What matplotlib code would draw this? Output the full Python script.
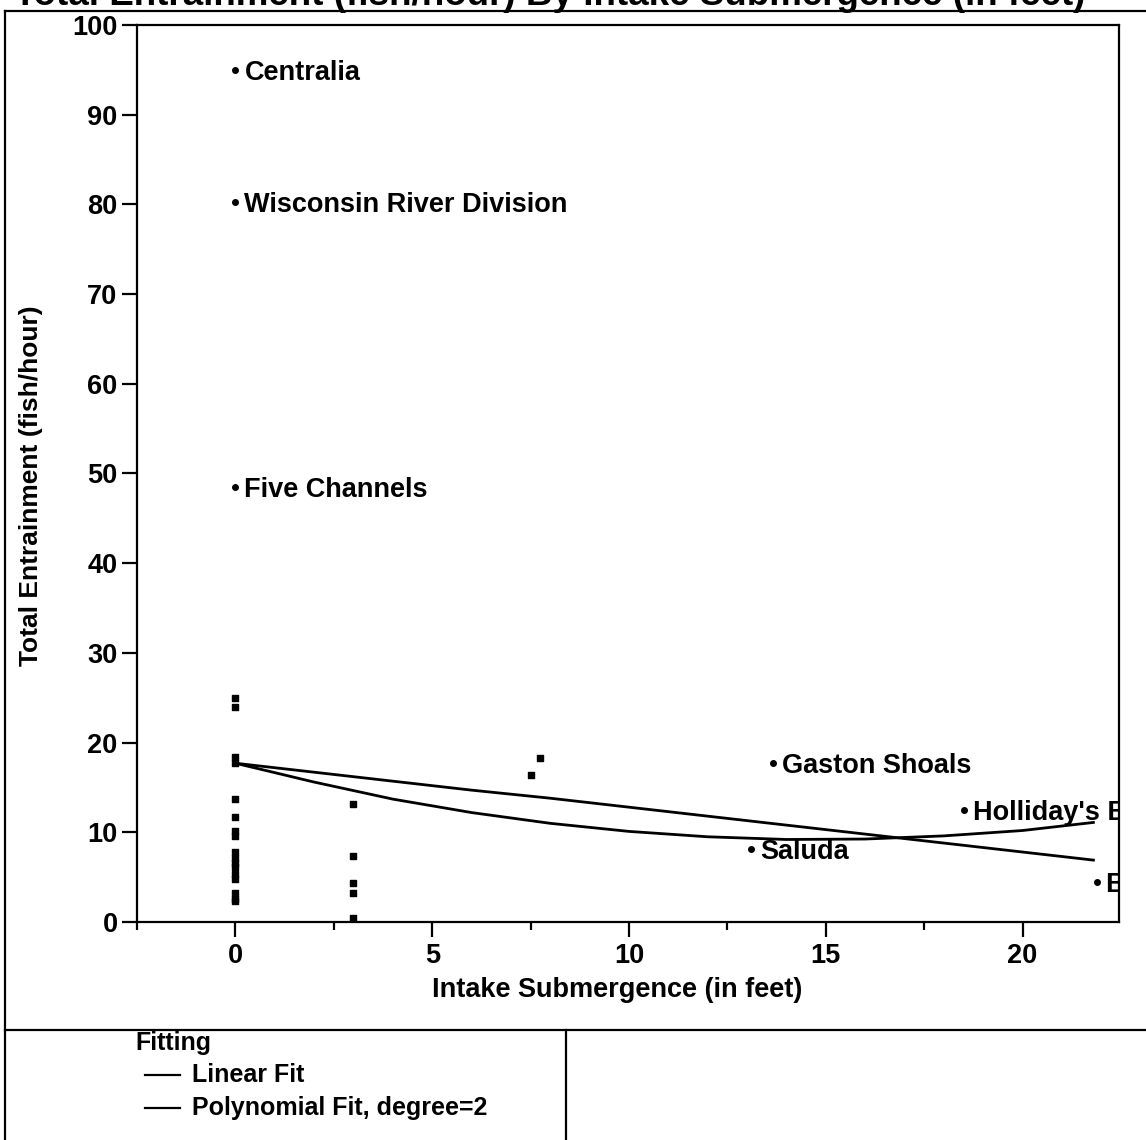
import numpy as np
import matplotlib
matplotlib.use("Agg")
import matplotlib.pyplot as plt
from matplotlib.lines import Line2D

plt.rcParams["font.family"] = ["Liberation Sans", "DejaVu Sans"]
plt.rcParams["font.weight"] = "bold"
plt.rcParams["axes.labelweight"] = "bold"

# Unlabelled plants: intake submergence (ft) and total entrainment (fish/hour)
plain_x = [0, 0, 0, 0, 0, 0, 0, 0, 0, 0, 0, 0, 0, 0, 0, 0, 0,
           3, 3, 3, 3, 3, 7.5, 7.75]
plain_y = [25.0, 24.0, 18.4, 17.7, 13.7, 11.7, 10.1, 9.6, 7.8, 7.1, 6.6, 6.1, 5.4, 4.8, 3.2, 2.6, 2.3,
           13.2, 7.4, 4.3, 3.2, 0.5, 16.4, 18.3]

# Labelled plants
names = ["Centralia", "Wisconsin River Division", "Five Channels", "Gaston Shoals",
         "Holliday's Bridge", "Saluda", "Buzzard's Roost"]
named_x = [0, 0, 0, 13.67, 18.5, 13.1, 21.9]
named_y = [95.0, 80.3, 48.5, 17.7, 12.5, 8.1, 4.5]

# Fitted curves
fit_x = [0, 2, 4, 6, 8, 10, 12, 14, 16, 18, 20, 21.8]
linear_y = [17.7, 16.7, 15.7, 14.7, 13.8, 12.8, 11.8, 10.8, 9.8, 8.8, 7.8, 6.9]
poly_y = [17.7, 15.6, 13.7, 12.2, 11.0, 10.1, 9.5, 9.2, 9.25, 9.6, 10.2, 11.1]

x_ticks = [0, 5, 10, 15, 20]
y_ticks = [0, 10, 20, 30, 40, 50, 60, 70, 80, 90, 100]

W, H = 1146, 1140
fig = plt.figure(figsize=(W / 100, H / 100), dpi=100)

ax = fig.add_axes([137 / W, 1 - 922 / H, (1119 - 137) / W, (922 - 25) / H])
ax.set_xlim(-2.5, 22.45)
ax.set_ylim(0, 100)

ax.plot(fit_x, linear_y, color="black", lw=2.0)
ax.plot(fit_x, poly_y, color="black", lw=2.0)

ax.scatter(plain_x, plain_y, marker="s", s=22, color="black", zorder=3)
ax.scatter(named_x, named_y, marker="o", s=16, color="black", zorder=3)
for n, x, y in zip(names, named_x, named_y):
    t = ax.annotate(n, (x, y), xytext=(6.5, 0), textcoords="offset points",
                    va="center_baseline", ha="left", fontsize=19.5,
                    annotation_clip=False)
    t.set_clip_path(ax.patch)

for s in ax.spines.values():
    s.set_linewidth(1.6)

ax.set_xticks(x_ticks)
ax.set_xticks([-2.5, 2.5, 7.5, 12.5, 17.5], minor=True)
ax.set_yticks(y_ticks)
ax.tick_params(axis="both", which="major", direction="out", length=11, width=1.6,
               labelsize=19.5, pad=3)
ax.tick_params(axis="x", which="minor", direction="out", length=6, width=1.6)
ax.tick_params(axis="x", which="major", pad=4)

ax.set_xlabel("Intake Submergence (in feet)", fontsize=19.5)
ax.xaxis.set_label_coords((617 - 137) / 982, -(990 - 922) / 897)
ax.xaxis.label.set_va("center")
ax.set_ylabel("Total Entrainment (fish/hour)", fontsize=19)
ax.yaxis.set_label_coords((31 - 137) / 982, (922 - 486) / 897)
ax.yaxis.label.set_va("center")

# Cropped title at the very top of the page
fig.text(14 / W, 1 - 5 / H, "Total Entrainment (fish/hour) By Intake Submergence (in feet)",
         fontsize=26.5, fontweight="bold", va="baseline", ha="left")

# Report frame and fitting legend panel
frame = dict(color="black", lw=1.6, transform=fig.transFigure)
fig.add_artist(Line2D([5 / W, 1], [1 - 11 / H, 1 - 11 / H], **frame))
fig.add_artist(Line2D([5 / W, 5 / W], [0, 1 - 11 / H], **frame))
fig.add_artist(Line2D([5 / W, 1], [1 - 1030 / H, 1 - 1030 / H], **frame))
fig.add_artist(Line2D([566 / W, 566 / W], [0, 1 - 1030 / H], **frame))

fig.text(135 / W, 1 - 1043 / H, "Fitting", fontsize=18, va="center", ha="left")
for i, lab in enumerate(["Linear Fit", "Polynomial Fit, degree=2"]):
    yy = 1 - (1075 + 33 * i) / H
    fig.add_artist(Line2D([145 / W, 180 / W], [yy, yy], **frame))
    fig.text(192 / W, yy, lab, fontsize=18, va="center", ha="left")

fig.savefig("out.png", dpi=100)
